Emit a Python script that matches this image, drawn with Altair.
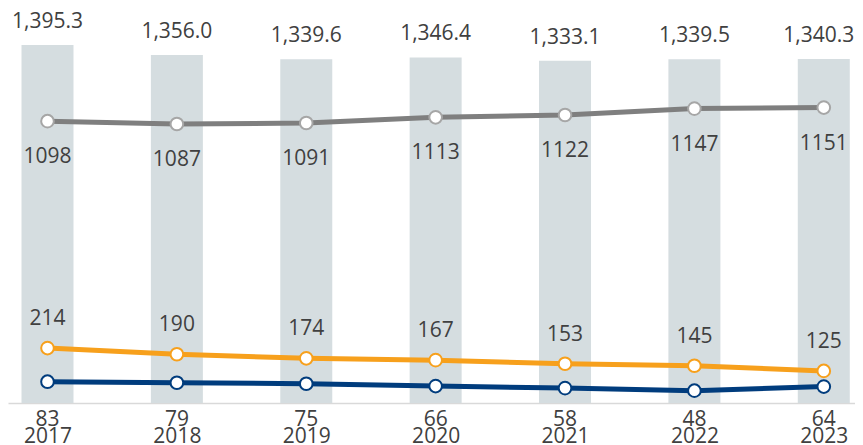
import altair as alt
import pandas as pd

years = [2017, 2018, 2019, 2020, 2021, 2022, 2023]
totals = [1395.3, 1356.0, 1339.6, 1346.4, 1333.1, 1339.5, 1340.3]
gray_vals = [1098, 1087, 1091, 1113, 1122, 1147, 1151]
orange_vals = [214, 190, 174, 167, 153, 145, 125]
blue_vals = [83, 79, 75, 66, 58, 48, 64]

df = pd.DataFrame({
    "year": years,
    "total": totals,
    "gray": gray_vals,
    "orange": orange_vals,
    "blue": blue_vals,
})

FONT = "Open Sans"
TXT = "#404040"
FS = 21

x = alt.X(
    "year:Q",
    scale=alt.Scale(domain=[2016.6947, 2023.2413], nice=False, zero=False, padding=0),
    axis=alt.Axis(
        values=years, format="d", title=None, grid=False, ticks=False, tickSize=0,
        domainColor="#d9d9d9", domainWidth=1.5, labelFont=FONT, labelFontSize=FS,
        labelColor=TXT, labelPadding=22, labelFlush=False, labelOverlap=False,
    ),
)
yscale = alt.Scale(domain=[0, 1539], nice=False, zero=True, padding=0)

base = alt.Chart(df)

bars = base.mark_bar(size=52, color="#d5dde0").encode(
    x=x, y=alt.Y("total:Q", scale=yscale, axis=None, stack=None)
)
bar_text = base.transform_filter(alt.datum.year < 2023).mark_text(
    font=FONT, fontSize=FS, color=TXT, baseline="alphabetic", dy=-17
).encode(x="year:Q", y=alt.Y("total:Q", scale=yscale), text=alt.Text("total:Q", format=",.1f"))
bar_text_last = base.transform_filter(alt.datum.year == 2023).mark_text(
    font=FONT, fontSize=FS, color=TXT, baseline="alphabetic", dy=-17, dx=-5
).encode(x="year:Q", y=alt.Y("total:Q", scale=yscale), text=alt.Text("total:Q", format=",.1f"))


def series(field, color, stroke, dy, fixed=False):
    line = base.mark_line(color=color, strokeWidth=5).encode(
        x="year:Q", y=alt.Y(f"{field}:Q", scale=yscale)
    )
    pts = base.mark_point(
        shape="circle", filled=True, fill="white", stroke=stroke, strokeWidth=2,
        size=160, opacity=1,
    ).encode(x="year:Q", y=alt.Y(f"{field}:Q", scale=yscale))
    if fixed:
        ty = alt.YDatum(0, scale=yscale)
    else:
        ty = alt.Y(f"{field}:Q", scale=yscale)
    txt = base.mark_text(
        font=FONT, fontSize=FS, color=TXT, baseline="alphabetic", dy=dy
    ).encode(x="year:Q", y=ty, text=f"{field}:Q")
    return [line, pts, txt]


layers = [bars, bar_text, bar_text_last]
layers += series("gray", "#7f7f7f", "#a6a6a6", 42)
layers += series("orange", "#f7a01c", "#f7a01c", -23)
layers += series("blue", "#003c7d", "#003c7d", 23, fixed=True)

chart = alt.layer(*layers).properties(
    width=847, height=395,
    autosize=alt.AutoSizeParams(type="none"),
    padding={"left": 0, "top": 0, "right": 0, "bottom": 42},
    background="white",
).configure_view(stroke=None)

chart.save("out.html", embed_options={"renderer": "svg", "actions": False})
